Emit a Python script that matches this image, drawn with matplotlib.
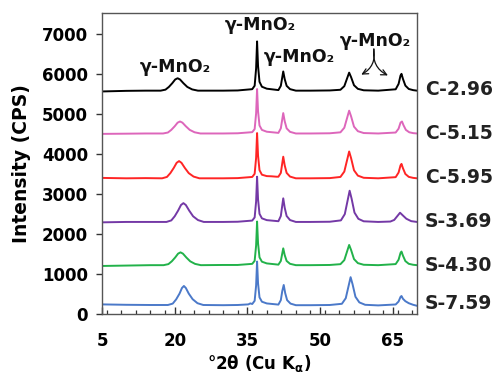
import matplotlib
matplotlib.use("Agg")
import matplotlib.pyplot as plt
from matplotlib.ticker import MultipleLocator

# ---- data ----
c296_x = [5, 10, 14, 17.1, 18.1, 18.8, 19.5, 20.1, 20.6, 21.1, 21.8, 22.6, 23.6, 24.8, 30, 33,
          36.0, 36.5, 36.8, 37.0, 37.2, 37.5, 38.0, 39, 41.4, 41.9, 42.2, 42.4, 42.7, 43.1, 43.8, 45,
          48, 52, 54.2, 55.0, 55.6, 56.0, 56.4, 57.0, 57.8, 59, 62, 65.6, 66.2, 66.6, 66.8, 67.1,
          67.6, 68.3, 69.2, 70]
c296_y = [5560, 5575, 5580, 5580, 5605, 5673, 5766, 5859, 5890, 5859, 5766, 5673, 5611, 5580, 5580, 5585,
          5617, 5703, 6134, 6810, 6195, 5801, 5678, 5629, 5594, 5700, 5916, 6060, 5868, 5700, 5618, 5580,
          5580, 5585, 5602, 5692, 5895, 6030, 5917, 5715, 5625, 5589, 5580, 5614, 5748, 5958, 6000, 5874,
          5706, 5622, 5593, 5580]

c515_x = [5, 10, 14, 17.6, 18.6, 19.3, 20.0, 20.6, 21.1, 21.6, 22.3, 23.1, 24.1, 25.3, 30, 33,
          36.0, 36.5, 36.8, 37.0, 37.2, 37.5, 38.0, 39, 41.4, 41.9, 42.2, 42.4, 42.7, 43.1, 43.8, 45,
          48, 52, 54.2, 55.0, 55.6, 56.0, 56.4, 57.0, 57.8, 59, 62, 65.6, 66.2, 66.6, 66.9, 67.2,
          67.7, 68.4, 69.2, 70]
c515_y = [4500, 4505, 4510, 4510, 4534, 4600, 4690, 4780, 4810, 4780, 4690, 4600, 4540, 4510, 4510, 4515,
          4543, 4621, 5010, 5620, 5065, 4710, 4599, 4554, 4525, 4638, 4867, 5020, 4816, 4638, 4551, 4510,
          4510, 4515, 4539, 4653, 4909, 5080, 4938, 4681, 4567, 4521, 4510, 4534, 4630, 4780, 4810, 4720,
          4600, 4540, 4519, 4510]

c595_x = [5, 10, 14, 17.4, 18.4, 19.1, 19.8, 20.4, 20.9, 21.4, 22.1, 22.9, 23.9, 25.1, 30, 33,
          36.0, 36.5, 36.8, 37.0, 37.2, 37.5, 38.0, 39, 40, 41.0, 41.4, 41.9, 42.2, 42.4, 42.7, 43.1, 43.8, 45,
          48, 52, 54.2, 55.0, 55.6, 56.0, 56.4, 57.0, 57.8, 59, 62, 65.6, 66.2, 66.6, 66.8, 67.1,
          67.6, 68.3, 69.2, 70]
c595_y = [3400, 3390, 3395, 3390, 3424, 3519, 3648, 3777, 3820, 3777, 3648, 3519, 3433, 3390, 3390, 3395,
          3424, 3503, 3899, 4520, 3955, 3593, 3480, 3445, 3440, 3430, 3430, 3525, 3768, 3930, 3714, 3525, 3433, 3390,
          3390, 3395, 3424, 3558, 3859, 4060, 3893, 3591, 3457, 3403, 3390, 3419, 3534, 3714, 3750, 3642,
          3498, 3426, 3401, 3390]

s369_x = [5, 10, 15, 18.3, 19.3, 20.0, 20.7, 21.3, 21.8, 22.3, 23.0, 23.8, 24.8, 26.0, 30, 33,
          36.0, 36.5, 36.8, 37.0, 37.2, 37.5, 38.0, 39, 41.4, 41.9, 42.2, 42.4, 42.7, 43.1, 43.8, 45,
          48, 52, 54.3, 55.1, 55.7, 56.1, 56.5, 57.1, 57.9, 59, 62, 64.5, 65.3, 65.9, 66.5, 67.1,
          67.8, 68.8, 70]
s369_y = [2290, 2300, 2300, 2300, 2338, 2441, 2582, 2723, 2770, 2723, 2582, 2441, 2347, 2300, 2300, 2305,
          2334, 2413, 2809, 3430, 2865, 2503, 2390, 2345, 2318, 2448, 2713, 2890, 2654, 2448, 2347, 2300,
          2300, 2305, 2339, 2495, 2846, 3080, 2885, 2534, 2378, 2316, 2300, 2310, 2350, 2440, 2530, 2460,
          2380, 2320, 2300]

s430_x = [5, 10, 15, 17.7, 18.7, 19.4, 20.1, 20.7, 21.2, 21.7, 22.4, 23.2, 24.2, 25.4, 30, 33,
          36.0, 36.5, 36.8, 37.0, 37.2, 37.5, 38.0, 39, 41.4, 41.9, 42.2, 42.4, 42.7, 43.1, 43.8, 45,
          48, 52, 54.2, 55.0, 55.6, 56.0, 56.4, 57.0, 57.8, 59, 62, 65.6, 66.2, 66.6, 66.8, 67.1,
          67.6, 68.3, 69.2, 70]
s430_y = [1200, 1210, 1220, 1220, 1246, 1316, 1412, 1508, 1540, 1508, 1412, 1316, 1252, 1220, 1225, 1225,
          1253, 1329, 1710, 2310, 1765, 1416, 1307, 1264, 1233, 1325, 1514, 1640, 1472, 1325, 1254, 1220,
          1220, 1225, 1245, 1346, 1574, 1725, 1599, 1372, 1271, 1230, 1220, 1247, 1356, 1526, 1560, 1458,
          1322, 1254, 1230, 1220]

s759_x = [5, 10, 15, 18.6, 19.6, 20.3, 21.0, 21.5, 21.9, 22.3, 22.9, 23.7, 24.7, 25.9, 30, 33,
          35.2, 35.6, 36.0, 36.5, 36.8, 37.0, 37.2, 37.5, 38.0, 39, 41.4, 41.9, 42.2, 42.5, 42.8, 43.2, 43.9, 45,
          48, 52, 54.5, 55.3, 55.9, 56.3, 56.7, 57.3, 58.1, 59.3, 62, 65.6, 66.2, 66.6, 66.8, 67.1,
          67.6, 68.3, 69.2, 70]
s759_y = [240, 230, 225, 225, 260, 365, 510, 650, 700, 650, 510, 370, 270, 225, 220, 225,
          240, 265, 250, 330, 710, 1310, 765, 416, 307, 264, 235, 346, 574, 725, 523, 346, 260, 220,
          220, 225, 255, 395, 710, 920, 745, 430, 290, 230, 215, 238, 312, 427, 450, 380,
          320, 270, 230, 205]

sample_names = ["C-2.96", "C-5.15", "C-5.95", "S-3.69", "S-4.30", "S-7.59"]
label_levels = [5600, 4520, 3410, 2310, 1220, 250]
series_x = [c296_x, c515_x, c595_x, s369_x, s430_x, s759_x]
series_y = [c296_y, c515_y, c595_y, s369_y, s430_y, s759_y]
colors = ["#000000", "#dd66bb", "#ff2525", "#7439a6", "#22b24a", "#4b79c9"]

x_ticks = [5, 20, 35, 50, 65]
y_ticks = [0, 1000, 2000, 3000, 4000, 5000, 6000, 7000]

# ---- figure ----
plt.rcParams['font.family'] = ['DejaVu Sans']
fig = plt.figure(figsize=(4.93, 3.73), dpi=100)
ax = fig.add_axes([102 / 493, 1 - 314 / 373, 315 / 493, 301 / 373])

for xs, ys, col in zip(series_x, series_y, colors):
    ax.plot(xs, ys, color=col, lw=1.4, solid_joinstyle='round')

ax.set_xlim(5, 70)
ax.set_ylim(0, 7520)
ax.set_xticks(x_ticks)
ax.set_yticks(y_ticks)
ax.xaxis.set_minor_locator(MultipleLocator(3))
ax.tick_params(axis='x', which='major', direction='in', length=5, width=1,
               pad=13, labelsize=12, color='#333333')
ax.tick_params(axis='x', which='minor', direction='in', length=3, width=0.9, color='#333333')
ax.tick_params(axis='y', which='major', direction='out', length=4, width=1,
               pad=6, labelsize=12, color='#333333')
for lab in ax.get_xticklabels() + ax.get_yticklabels():
    lab.set_fontweight('bold')
for sp in ax.spines.values():
    sp.set_color('#555555')
    sp.set_linewidth(1.0)

ax.set_ylabel("Intensity (CPS)", fontsize=13.5, fontweight='bold', labelpad=8)
ax.set_xlabel("°2θ (Cu K$_\\mathbf{\\alpha}$)", fontsize=12, fontweight='bold', labelpad=2)

for name, lvl in zip(sample_names, label_levels):
    ax.text(1.025, lvl, name, transform=ax.get_yaxis_transform(), fontsize=13.5,
            fontweight='bold', va='center', ha='left', color='#222222', clip_on=False)

# phase annotations
ann = dict(fontsize=12.5, fontweight='bold', ha='center', va='center', color='#111111')
ax.text(20.1, 6180, "γ-MnO₂", **ann)
ax.text(37.6, 7230, "γ-MnO₂", **ann)
ax.text(45.8, 6420, "γ-MnO₂", **ann)
ax.text(61.4, 6830, "γ-MnO₂", **ann)
ax.annotate("", xy=(58.5, 5980), xytext=(61.1, 6620),
            arrowprops=dict(arrowstyle='->', lw=0.9, color='#111111',
                            connectionstyle='arc3,rad=-0.35', shrinkA=0, shrinkB=0))
ax.annotate("", xy=(64.0, 5960), xytext=(61.1, 6620),
            arrowprops=dict(arrowstyle='->', lw=0.9, color='#111111',
                            connectionstyle='arc3,rad=0.35', shrinkA=0, shrinkB=0))

fig.savefig("out.png", dpi=100)
